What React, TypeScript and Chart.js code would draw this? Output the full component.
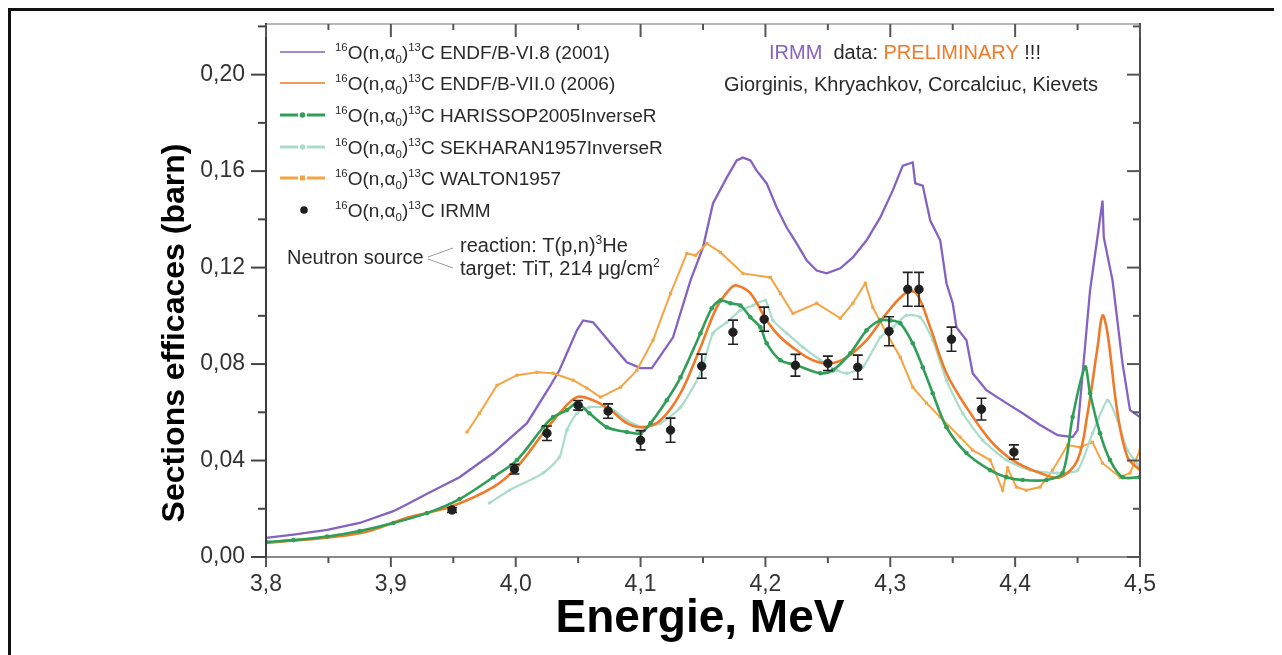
import React, { useEffect, useRef } from "react";
import { Chart, registerables } from "chart.js";
Chart.register(...registerables);

// ---------- data ----------
const endf6E = [3.800,3.822,3.849,3.875,3.902,3.915,3.929,3.955,3.982,4.009,4.027,4.035,4.049,4.054,4.062,4.076,4.089,4.100,4.109,4.126,4.140,4.150,4.158,4.169,4.177,4.182,4.188,4.193,4.201,4.209,4.217,4.225,4.233,4.241,4.249,4.260,4.270,4.281,4.292,4.302,4.310,4.318,4.320,4.326,4.332,4.340,4.345,4.350,4.353,4.361,4.366,4.377,4.393,4.406,4.420,4.434,4.446,4.450,4.460,4.470,4.471,4.478,4.486,4.492,4.500];
const endf6XS = [0.0079,0.0093,0.0112,0.0141,0.0190,0.0224,0.0262,0.0331,0.0431,0.0555,0.0704,0.0774,0.0940,0.0981,0.0973,0.0886,0.0807,0.0783,0.0783,0.0911,0.1147,0.1284,0.1466,0.1573,0.1644,0.1656,0.1644,0.1602,0.1549,0.1449,0.1366,0.1300,0.1230,0.1188,0.1176,0.1197,0.1242,0.1313,0.1408,0.1520,0.1623,0.1636,0.1549,0.1540,0.1395,0.1313,0.1135,0.1052,0.0952,0.0899,0.0762,0.0692,0.0638,0.0596,0.0547,0.0505,0.0497,0.0526,0.1106,0.1478,0.1325,0.1147,0.0803,0.0609,0.0580];

const endf7E = [3.800,3.875,3.915,3.947,3.982,4.001,4.022,4.035,4.049,4.062,4.076,4.089,4.102,4.116,4.132,4.148,4.161,4.172,4.177,4.188,4.201,4.212,4.225,4.238,4.252,4.265,4.281,4.297,4.313,4.321,4.332,4.345,4.361,4.380,4.398,4.420,4.436,4.450,4.458,4.466,4.470,4.474,4.482,4.490,4.500];
const endf7XS = [0.0058,0.0099,0.0166,0.0207,0.0290,0.0373,0.0513,0.0596,0.0663,0.0650,0.0609,0.0555,0.0538,0.0567,0.0679,0.0870,0.1035,0.1114,0.1126,0.1093,0.0981,0.0911,0.0857,0.0816,0.0803,0.0828,0.0899,0.1010,0.1097,0.1093,0.0952,0.0762,0.0621,0.0484,0.0402,0.0348,0.0331,0.0402,0.0596,0.0870,0.1002,0.0928,0.0596,0.0414,0.0360];

const harisE = [3.800,3.822,3.849,3.875,3.902,3.929,3.955,3.982,4.001,4.022,4.030,4.041,4.049,4.059,4.073,4.089,4.100,4.108,4.121,4.132,4.148,4.157,4.164,4.172,4.180,4.188,4.196,4.201,4.212,4.225,4.244,4.254,4.268,4.281,4.292,4.300,4.308,4.318,4.326,4.334,4.345,4.361,4.380,4.393,4.406,4.425,4.438,4.446,4.456,4.460,4.468,4.476,4.486,4.500];
const harisXS = [0.0062,0.0070,0.0085,0.0108,0.0141,0.0182,0.0240,0.0331,0.0402,0.0538,0.0580,0.0609,0.0638,0.0596,0.0538,0.0518,0.0513,0.0555,0.0650,0.0745,0.0928,0.1031,0.1064,0.1052,0.1043,0.0994,0.0952,0.0886,0.0816,0.0795,0.0762,0.0774,0.0845,0.0940,0.0981,0.0981,0.0969,0.0886,0.0787,0.0679,0.0538,0.0431,0.0360,0.0331,0.0319,0.0319,0.0348,0.0580,0.0787,0.0679,0.0513,0.0402,0.0331,0.0331];

const sekhE = [3.979,3.995,4.022,4.035,4.041,4.049,4.059,4.076,4.089,4.102,4.116,4.132,4.148,4.158,4.169,4.180,4.190,4.200,4.206,4.217,4.230,4.244,4.257,4.265,4.278,4.292,4.302,4.313,4.324,4.334,4.345,4.358,4.374,4.393,4.412,4.434,4.450,4.462,4.474,4.482,4.490,4.500];
const sekhXS = [0.0224,0.0277,0.0348,0.0414,0.0526,0.0596,0.0621,0.0617,0.0567,0.0538,0.0555,0.0621,0.0762,0.0928,0.0973,0.1023,0.1043,0.1064,0.0981,0.0928,0.0870,0.0816,0.0774,0.0762,0.0787,0.0911,0.0952,0.1002,0.0994,0.0899,0.0733,0.0596,0.0484,0.0402,0.0360,0.0348,0.0360,0.0513,0.0650,0.0567,0.0443,0.0373];

const waltonE = [3.961,3.971,3.985,4.001,4.017,4.030,4.046,4.057,4.068,4.084,4.097,4.110,4.124,4.137,4.144,4.153,4.164,4.182,4.204,4.212,4.222,4.241,4.260,4.270,4.280,4.286,4.297,4.308,4.318,4.329,4.340,4.356,4.366,4.380,4.390,4.394,4.401,4.409,4.420,4.430,4.442,4.452,4.462,4.470,4.484,4.492,4.500];
const waltonXS = [0.0518,0.0596,0.0712,0.0754,0.0766,0.0762,0.0733,0.0700,0.0663,0.0704,0.0774,0.0899,0.1093,0.1259,0.1251,0.1300,0.1263,0.1176,0.1159,0.1093,0.1010,0.1052,0.0990,0.1052,0.1135,0.1035,0.0928,0.0828,0.0704,0.0638,0.0580,0.0497,0.0443,0.0402,0.0277,0.0369,0.0290,0.0277,0.0290,0.0360,0.0464,0.0455,0.0476,0.0389,0.0331,0.0348,0.0443];

const irmmE = [3.949,3.999,4.025,4.050,4.074,4.100,4.124,4.149,4.174,4.199,4.224,4.250,4.274,4.299,4.314,4.323,4.349,4.373,4.399];
const irmmXS = [0.0195,0.0364,0.0513,0.0629,0.0605,0.0484,0.0526,0.0791,0.0932,0.0986,0.0795,0.0803,0.0787,0.0936,0.1110,0.1110,0.0903,0.0613,0.0435];
const irmmErr = [0.001,0.002,0.003,0.002,0.003,0.004,0.005,0.005,0.005,0.005,0.0045,0.003,0.005,0.006,0.007,0.007,0.005,0.0045,0.003];

const seriesNames = ["ENDF/B-VI.8 (2001)", "ENDF/B-VII.0 (2006)", "HARISSOP2005InverseR", "SEKHARAN1957InverseR", "WALTON1957", "IRMM"];
const xTitle = "Energie, MeV";
const yTitle = "Sections efficaces (barn)";

// ---------- style ----------
const FONT = "'Liberation Sans', Arial, Helvetica, sans-serif";
const C_PURPLE = "#8561c2";
const C_ORANGE = "#f07a28";
const C_GREEN = "#2f9e57";
const C_TEAL = "#a9dccb";
const C_WALTON = "#f5a443";
const C_DARK = "#2a2a2a";

const pts = (xs: number[], ys: number[]) => xs.map((x, i) => ({ x, y: ys[i] }));

type Part = [string, "n" | "sup" | "sub"];
function drawRich(ctx: CanvasRenderingContext2D, x: number, y: number, parts: Part[], fs: number, color: string) {
  let cx = x;
  ctx.textBaseline = "alphabetic";
  ctx.textAlign = "left";
  for (const [t, k] of parts) {
    const size = k === "n" ? fs : fs * 0.6;
    ctx.font = `${size}px ${FONT}`;
    const dy = k === "sup" ? -fs * 0.42 : k === "sub" ? fs * 0.22 : 0;
    ctx.fillStyle = color;
    ctx.fillText(t, cx, y + dy);
    cx += ctx.measureText(t).width;
  }
  return cx - x;
}

const reactionParts = (name: string): Part[] => [["16", "sup"], ["O(n,α", "n"], ["0", "sub"], [")", "n"], ["13", "sup"], ["C " + name, "n"]];

const decorPlugin = {
  id: "decor",
  afterDatasetsDraw(chart: any) {
    const ctx: CanvasRenderingContext2D = chart.ctx;
    const xs = chart.scales.x;
    const ys = chart.scales.y;
    ctx.save();
    ctx.strokeStyle = "#222";
    ctx.lineWidth = 1.6;
    irmmE.forEach((e, i) => {
      const px = xs.getPixelForValue(e);
      const y1 = ys.getPixelForValue(irmmXS[i] - irmmErr[i]);
      const y2 = ys.getPixelForValue(irmmXS[i] + irmmErr[i]);
      ctx.beginPath();
      ctx.moveTo(px, y1); ctx.lineTo(px, y2);
      ctx.moveTo(px - 5, y1); ctx.lineTo(px + 5, y1);
      ctx.moveTo(px - 5, y2); ctx.lineTo(px + 5, y2);
      ctx.stroke();
    });
    ctx.restore();
  },
  afterDraw(chart: any) {
    const ctx: CanvasRenderingContext2D = chart.ctx;
    const a = chart.chartArea;
    const xs = chart.scales.x;
    const ys = chart.scales.y;
    ctx.save();
    const line = (x1: number, y1: number, x2: number, y2: number, c: string, w: number) => {
      ctx.strokeStyle = c; ctx.lineWidth = w;
      ctx.beginPath(); ctx.moveTo(x1, y1); ctx.lineTo(x2, y2); ctx.stroke();
    };
    line(a.left, a.top, a.right, a.top, "#b8b8b8", 2);
    line(a.left, a.bottom, a.right, a.bottom, "#8a8a8a", 2);
    line(a.left, a.top - 1, a.left, a.bottom + 10, "#3c3c3c", 2);
    line(a.right, a.top - 1, a.right, a.bottom + 10, "#4a4a4a", 2);
    xs.ticks.forEach((t: any) => {
      const k = Math.round(t.value * 100);
      const major = k % 10 === 0;
      const px = xs.getPixelForValue(t.value);
      line(px, a.bottom, px, a.bottom + (major ? 10 : 6), "#555", 2);
      line(px, a.top, px, a.top + (major ? 13 : 6), "#555", 2);
    });
    ys.ticks.forEach((t: any) => {
      const k = Math.round(t.value * 100);
      const major = k % 4 === 0;
      const py = ys.getPixelForValue(t.value);
      line(a.left - (major ? 15 : 8), py, a.left, py, "#444", 2);
      line(a.right - (major ? 13 : 7), py, a.right, py, "#555", 2);
    });

    // axis titles
    ctx.fillStyle = "#000";
    ctx.font = `bold 46px ${FONT}`;
    ctx.textAlign = "center";
    ctx.textBaseline = "alphabetic";
    ctx.fillText(xTitle, (a.left + a.right) / 2 - 3, 621);
    ctx.save();
    ctx.translate(173, 322);
    ctx.rotate(-Math.PI / 2);
    ctx.font = `bold 32px ${FONT}`;
    ctx.fillText(yTitle, 0, 0);
    ctx.restore();

    // legend
    const rows = [41, 72, 104, 136, 167, 199];
    const lx1 = 269, lx2 = 314, tx = 324, lfs = 19;
    rows.forEach((cy, i) => {
      if (i === 0 || i === 1) {
        line(lx1, cy, lx2, cy, i === 0 ? C_PURPLE : C_ORANGE, 1.6);
      } else if (i === 2 || i === 3 || i === 4) {
        const c = i === 2 ? C_GREEN : i === 3 ? C_TEAL : C_WALTON;
        line(lx1, cy, lx1 + 18, cy, c, 3);
        line(lx2 - 18, cy, lx2, cy, c, 3);
        ctx.fillStyle = c;
        const mx = (lx1 + lx2) / 2;
        if (i === 4) ctx.fillRect(mx - 2.5, cy - 2.5, 5, 5);
        else { ctx.beginPath(); ctx.arc(mx, cy, 2.8, 0, Math.PI * 2); ctx.fill(); }
      } else {
        ctx.fillStyle = "#1e1e1e";
        ctx.beginPath(); ctx.arc(293, cy, 3.8, 0, Math.PI * 2); ctx.fill();
      }
      drawRich(ctx, tx, cy + 7, reactionParts(seriesNames[i]), lfs, C_DARK);
    });

    // IRMM annotation
    const afs = 20;
    const l1: [string, string][] = [["IRMM", C_PURPLE], ["  data: ", C_DARK], ["PRELIMINARY", C_ORANGE], [" !!!", C_DARK]];
    ctx.font = `${afs}px ${FONT}`;
    ctx.textAlign = "left";
    ctx.textBaseline = "alphabetic";
    const w1 = l1.reduce((s, [t]) => s + ctx.measureText(t).width, 0);
    let cx = 894 - w1 / 2;
    l1.forEach(([t, c]) => { ctx.fillStyle = c; ctx.fillText(t, cx, 48); cx += ctx.measureText(t).width; });
    ctx.fillStyle = C_DARK;
    ctx.textAlign = "center";
    ctx.fillText("Giorginis, Khryachkov, Corcalciuc, Kievets", 900, 80);

    // neutron source annotation
    ctx.textAlign = "left";
    ctx.fillStyle = C_DARK;
    ctx.font = `${afs}px ${FONT}`;
    ctx.fillText("Neutron source", 276, 253);
    line(417, 246, 442, 237, "#9a9a9a", 1);
    line(417, 248, 442, 257, "#9a9a9a", 1);
    drawRich(ctx, 449, 241, [["reaction: T(p,n)", "n"], ["3", "sup"], ["He", "n"]], afs, C_DARK);
    drawRich(ctx, 449, 264, [["target: TiT, 214 μg/cm", "n"], ["2", "sup"]], afs, C_DARK);
    ctx.restore();
  },
};

export default function App() {
  const ref = useRef<HTMLCanvasElement>(null);
  useEffect(() => {
    document.documentElement.style.overflow = "hidden";
    document.body.style.overflow = "hidden";
    const cv = ref.current;
    if (!cv) return;
    const chart = new Chart(cv, {
      type: "scatter",
      data: {
        datasets: [
          { label: seriesNames[5], data: pts(irmmE, irmmXS), showLine: false, pointRadius: 4.2, pointBackgroundColor: "#1e1e1e", pointBorderColor: "#1e1e1e", order: 0 } as any,
          { label: seriesNames[2], data: pts(harisE, harisXS), showLine: true, borderColor: C_GREEN, borderWidth: 2.6, pointRadius: 2.3, pointBackgroundColor: C_GREEN, pointBorderWidth: 0, tension: 0.3, order: 1 },
          { label: seriesNames[1], data: pts(endf7E, endf7XS), showLine: true, borderColor: C_ORANGE, borderWidth: 2.6, pointRadius: 0, tension: 0.35, order: 2 },
          { label: seriesNames[3], data: pts(sekhE, sekhXS), showLine: true, borderColor: C_TEAL, borderWidth: 2.2, pointRadius: 1.8, pointBackgroundColor: C_TEAL, pointBorderWidth: 0, tension: 0.2, order: 3 },
          { label: seriesNames[4], data: pts(waltonE, waltonXS), showLine: true, borderColor: C_WALTON, borderWidth: 2, pointRadius: 2.2, pointStyle: "rect", pointBackgroundColor: C_WALTON, pointBorderWidth: 0, tension: 0, order: 4 },
          { label: seriesNames[0], data: pts(endf6E, endf6XS), showLine: true, borderColor: C_PURPLE, borderWidth: 2.3, pointRadius: 0, tension: 0, order: 5 },
        ],
      },
      options: {
        animation: false,
        responsive: false,
        events: [],
        layout: { padding: { left: 0, right: 142, top: 13, bottom: 0 } },
        plugins: { legend: { display: false }, tooltip: { enabled: false }, title: { display: false } },
        scales: {
          x: {
            type: "linear", min: 3.8, max: 4.5,
            grid: { display: false, drawTicks: false }, border: { display: false },
            ticks: {
              stepSize: 0.05, autoSkip: false, maxRotation: 0, padding: 14, color: "#333",
              font: { family: FONT, size: 23 },
              callback: (v: any) => { const k = Math.round(Number(v) * 100); return k % 10 === 0 ? (k / 100).toFixed(1).replace(".", ",") : ""; },
            },
            afterFit: (s: any) => { s.height = 98; },
          },
          y: {
            type: "linear", min: 0, max: 0.221,
            grid: { display: false, drawTicks: true, tickLength: 21 }, border: { display: false },
            ticks: {
              stepSize: 0.02, includeBounds: false, autoSkip: false, padding: 0, color: "#333",
              font: { family: FONT, size: 23, lineHeight: 1 },
              callback: (v: any) => { const k = Math.round(Number(v) * 100); return k % 4 === 0 ? (k / 100).toFixed(2).replace(".", ",") : ""; },
            },
            afterFit: (s: any) => { s.width = 255; },
          },
        },
      } as any,
      plugins: [decorPlugin],
    });
    return () => chart.destroy();
  }, []);
  return (
    <div style={{ position: "relative", width: 1271, height: 644, borderTop: "3px solid #111", borderLeft: "3px solid #111", background: "#fff" }}>
      <canvas ref={ref} width={1271} height={644} style={{ display: "block", width: 1271, height: 644 }} />
    </div>
  );
}
